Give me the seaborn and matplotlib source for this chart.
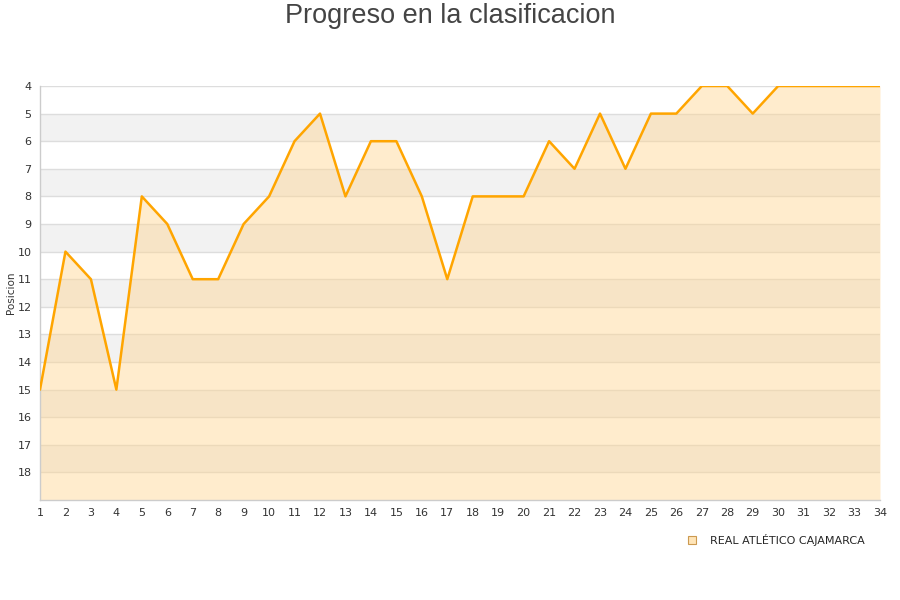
import matplotlib
matplotlib.use("Agg")
import matplotlib.pyplot as plt
import seaborn as sns
import pandas as pd
from matplotlib.lines import Line2D

jornadas = list(range(1, 35))
posiciones = [15, 10, 11, 15, 8, 9, 11, 11, 9, 8, 6, 5, 8, 6, 6, 8, 11, 8, 8, 8,
              6, 7, 5, 7, 5, 5, 4, 4, 5, 4, 4, 4, 4, 4]
equipo = "REAL ATLÉTICO CAJAMARCA"
titulo = "Progreso en la clasificacion"
ylabel = "Posicion"
yticks = list(range(4, 19))

df = pd.DataFrame({"Jornada": jornadas, "Posicion": posiciones})

sns.set_theme(style="white")
plt.rcParams['font.family'] = ['DejaVu Sans']

fig = plt.figure(figsize=(9, 6), dpi=100)
ax = fig.add_axes([40/900, 100/600, 840/900, 414/600])

ymin, ymax = 4, 19
# alternating bands
for y in range(ymin, ymax):
    if (y - ymin) % 2 == 1:
        ax.axhspan(y, y + 1, color="#f2f2f2", zorder=0, lw=0)
for y in yticks:
    ax.axhline(y, color="#dddddd", lw=1, zorder=1)

ax.fill_between(df["Jornada"], df["Posicion"], ymax, color="#ffd591", alpha=0.45,
                lw=0, zorder=2)
sns.lineplot(data=df, x="Jornada", y="Posicion", color="#FFA500", lw=1.8, ax=ax,
             zorder=3)

ax.set_xlim(1, 34)
ax.set_ylim(ymax, ymin)
ax.set_xticks(jornadas)
ax.set_xticklabels([str(j) for j in jornadas], fontsize=8, color="#333333")
ax.set_yticks(yticks)
ax.set_yticklabels([str(y) for y in yticks], fontsize=8, color="#333333")
ax.tick_params(axis="both", length=0, pad=6)
ax.set_xlabel("")
ax.set_ylabel(ylabel, fontsize=7.5, color="#333333", labelpad=1)
for s in ["top", "right"]:
    ax.spines[s].set_visible(False)
for s in ["left", "bottom"]:
    ax.spines[s].set_color("#cccccc")
    ax.spines[s].set_linewidth(1)

fig.text(0.5, 1 - 16/600, titulo, fontsize=19.5, color="#444444", ha="center",
         va="center", family=["Liberation Sans", "DejaVu Sans"])

handle = Line2D([], [], marker="s", linestyle="none", markersize=6,
                markerfacecolor="#ffe5b8", markeredgecolor="#cc9a50", markeredgewidth=0.8)
fig.legend([handle], [equipo], loc="center", bbox_to_anchor=(773/900, 1 - 540/600),
           frameon=False, fontsize=8, handletextpad=0.6)

fig.savefig("out.png", dpi=100)
